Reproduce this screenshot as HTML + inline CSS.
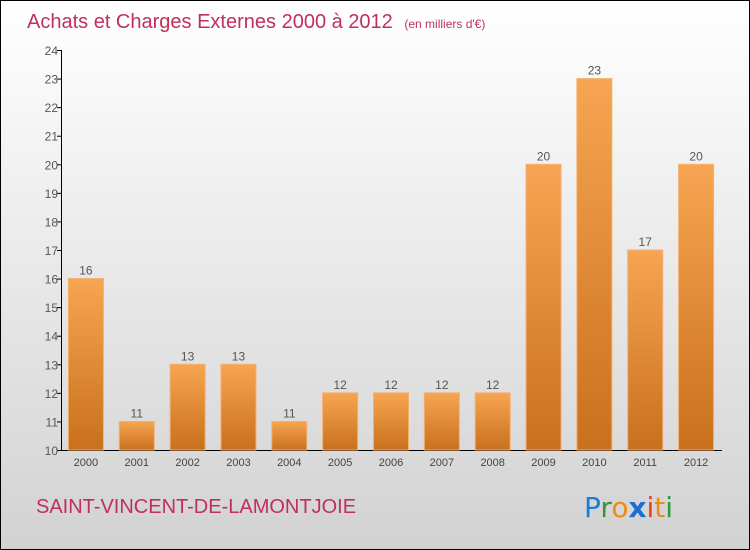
<!DOCTYPE html>
<html><head><meta charset="utf-8"><style>
body{margin:0;}
#wrap{position:relative;width:748px;height:548px;border:1px solid #000;background:linear-gradient(#ffffff,#d2d2d2);overflow:hidden;font-family:"Liberation Sans",sans-serif;}
</style></head><body>
<div id="wrap">
<svg id="svg" width="748" height="548" xmlns="http://www.w3.org/2000/svg">
<defs>
<linearGradient id="bg" x1="0" y1="0" x2="0" y2="1"><stop offset="0" stop-color="#f7a552"/><stop offset="1" stop-color="#c8701e"/></linearGradient>
</defs>
<text x="26" y="27" font-size="20" fill="#c0305a">Achats et Charges Externes 2000 à 2012 <tspan font-size="12" dx="6">(en milliers d'€)</tspan></text>
<g id="axes"></g>
<g id="bars"></g>
<text x="35" y="512" font-size="20" fill="#c0305a">SAINT-VINCENT-DE-LAMONTJOIE</text>
<text x="583" y="516" font-size="28" font-family="'DejaVu Sans',sans-serif"><tspan fill="#1a7fd4">P</tspan><tspan fill="#2e9a3e">r</tspan><tspan fill="#f08a10">o</tspan><tspan fill="#1a6fd0" font-weight="bold">x</tspan><tspan fill="#e8401a">i</tspan><tspan fill="#f08a10">t</tspan><tspan fill="#2e9a3e">i</tspan></text>
</svg>
</div>
<script>
const years=["2000","2001","2002","2003","2004","2005","2006","2007","2008","2009","2010","2011","2012"];
const values=[16,11,13,13,11,12,12,12,12,20,23,17,20];
const yTicks=[10,11,12,13,14,15,16,17,18,19,20,21,22,23,24];
const NS="http://www.w3.org/2000/svg";
const x0=60,x1=721,yTop=49,yBot=449,vMin=10,vMax=24;
const y=v=>yBot-(v-vMin)/(vMax-vMin)*(yBot-yTop);
const step=(x1-x0)/years.length;
const xc=i=>x0+step*(i+0.5)-0.5;
function mk(t,a,p){const e=document.createElementNS(NS,t);for(const k in a)e.setAttribute(k,a[k]);p.appendChild(e);return e;}
const ax=document.getElementById('axes'),bg=document.getElementById('bars');
const yl=mk('line',{x1:x0+.5,x2:x0+.5,y1:yTop,y2:yBot,stroke:'#000'},ax);


const xl=mk('line',{x1:x0,x2:x1,y1:yBot+.5,y2:yBot+.5,stroke:'#000'},ax);


yTicks.forEach(v=>{
 mk('line',{x1:x0-4,x2:x0,y1:y(v)+.5,y2:y(v)+.5,stroke:'#000'},ax);
 const t=mk('text',{x:x0-3,y:y(v)+5,'font-size':12,fill:'#555','text-anchor':'end'},ax);
 t.textContent=v;
 
 
});
values.forEach((v,i)=>{
 const w=35,cx=xc(i);
 const r=mk('rect',{x:cx-w/2,y:y(v),width:w,height:yBot-y(v),fill:'url(#bg)',stroke:'#f5b070','stroke-width':1},bg);
 
 
 const l=mk('text',{x:cx,y:y(v)-4,'font-size':12,fill:'#555','text-anchor':'middle'},bg);
 l.textContent=v;
 
 
 const xt=mk('text',{x:cx,y:yBot+16,'font-size':11,fill:'#444','text-anchor':'middle'},ax);
 xt.textContent=years[i];
 
 
});
</script>
</body></html>
